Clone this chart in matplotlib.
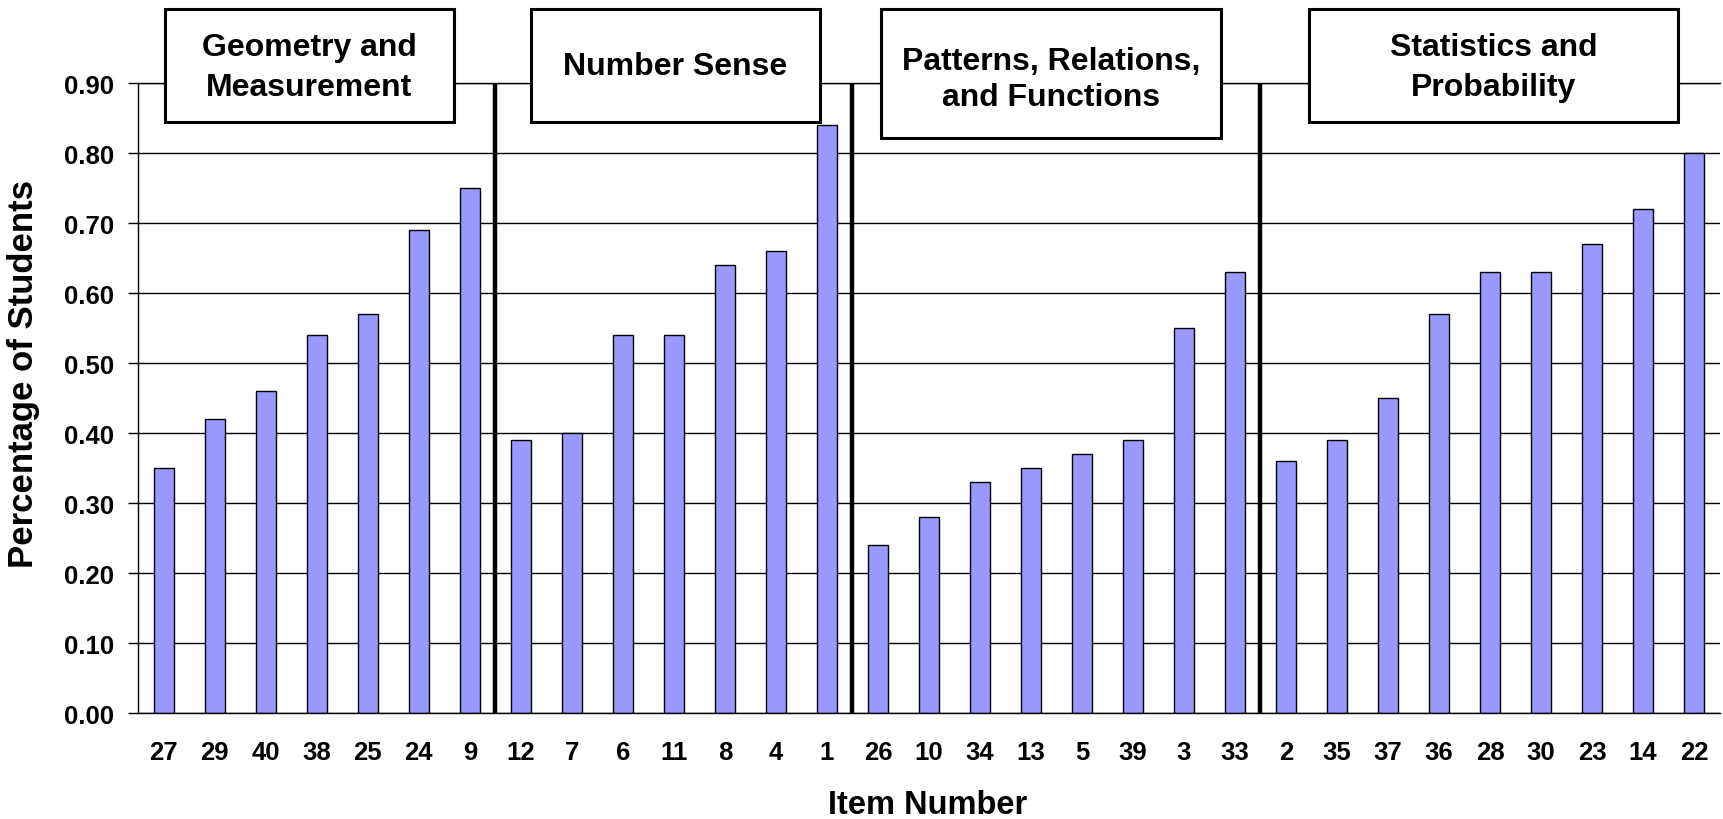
import numpy as np
import matplotlib
matplotlib.use("Agg")
import matplotlib.pyplot as plt
from matplotlib.patches import Rectangle
from matplotlib.ticker import FormatStrFormatter

plt.rcParams['font.family'] = ['Liberation Sans', 'DejaVu Sans']
plt.rcParams['font.weight'] = 'bold'

# item numbers, grouped by strand, and share of students answering correctly
items = ["27", "29", "40", "38", "25", "24", "9",
         "12", "7", "6", "11", "8", "4", "1",
         "26", "10", "34", "13", "5", "39", "3", "33",
         "2", "35", "37", "36", "28", "30", "23", "14", "22"]
pct = [0.35, 0.42, 0.46, 0.54, 0.57, 0.69, 0.75,
       0.39, 0.40, 0.54, 0.54, 0.64, 0.66, 0.84,
       0.24, 0.28, 0.33, 0.35, 0.37, 0.39, 0.55, 0.63,
       0.36, 0.39, 0.45, 0.57, 0.63, 0.63, 0.67, 0.72, 0.80]
strand_names = ["Geometry and\nMeasurement", "Number Sense",
                "Patterns, Relations,\nand Functions", "Statistics and\nProbability"]
strand_sizes = [7, 7, 8, 9]
y_ticks = [0.0, 0.1, 0.2, 0.3, 0.4, 0.5, 0.6, 0.7, 0.8, 0.9]

W, H = 1723, 820
fig = plt.figure(figsize=(W / 100, H / 100), dpi=100)
ax = fig.add_axes([138.3 / W, 105.7 / H, 1581.2 / W, 630 / H])

x = np.arange(len(items))
ax.bar(x, pct, width=0.4, color="#9999FF", edgecolor="black",
       linewidth=1.0, zorder=2)

ax.set_xlim(-0.5, len(items) - 0.5)
ax.set_ylim(0, 0.9)
ax.set_xticks(x)
ax.set_xticklabels(items)
ax.set_yticks(y_ticks)
ax.yaxis.set_major_formatter(FormatStrFormatter('%.2f'))
ax.yaxis.grid(True, color="black", linewidth=1.0)
ax.set_axisbelow(True)
ax.spines['right'].set_visible(False)
for s in ['left', 'top', 'bottom']:
    ax.spines[s].set_linewidth(1.0)
ax.tick_params(axis='x', length=0, pad=19, labelsize=18.5)
ax.tick_params(axis='y', length=7.2, width=1.0, pad=10, labelsize=18.5)

# thick separators between strands
bounds = np.cumsum(strand_sizes)[:-1] - 0.5
for b in bounds:
    ax.plot([b, b], [0, 0.9], color="black", linewidth=3.2, zorder=3,
            solid_capstyle='butt')

# strand label boxes (pixel layout: left, right, top, bottom, text centre y, line spacing)
box_px = [(165, 454, 10, 123, 68, 1.45),
          (531, 820, 10, 123, 67, 1.3),
          (881, 1221, 10, 139, 80, 1.28),
          (1309, 1678, 10, 123, 68, 1.45)]
for name, (l, r, t, b, ty, ls) in zip(strand_names, box_px):
    fig.patches.append(Rectangle((l / W, 1 - b / H), (r - l) / W, (b - t) / H,
                                 transform=fig.transFigure, facecolor="white",
                                 edgecolor="black", linewidth=2.2, zorder=5))
    fig.text((l + r) / 2 / W, 1 - ty / H, name, ha="center", va="center",
             fontsize=23, fontweight="bold", linespacing=ls, zorder=6)

fig.text(928 / W, 1 - 806 / H, "Item Number", ha="center", va="center",
         fontsize=23.5, fontweight="bold")
fig.text(24 / W, 1 - 374 / H, "Percentage of Students", ha="center",
         va="center", rotation=90, fontsize=25, fontweight="bold")

fig.savefig("out.png", dpi=100)
